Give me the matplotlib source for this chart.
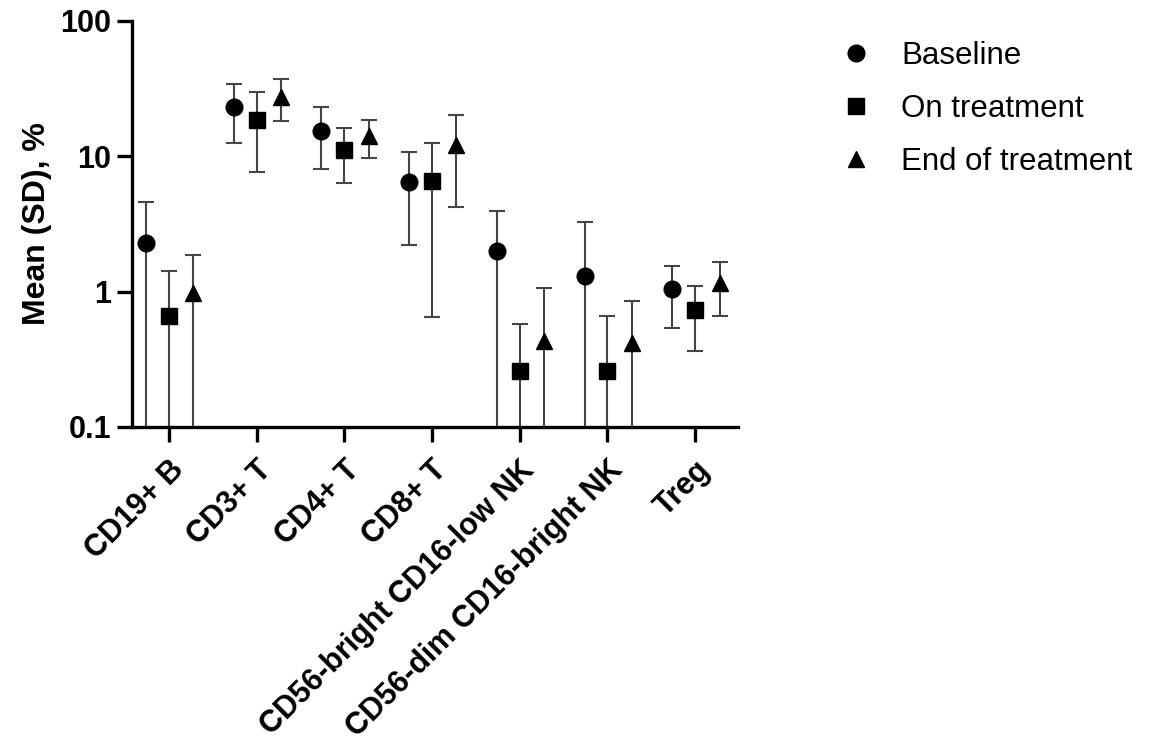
import numpy as np
import matplotlib
matplotlib.use("Agg")
import matplotlib.pyplot as plt
from matplotlib.lines import Line2D

plt.rcParams['font.family'] = ['Liberation Sans', 'DejaVu Sans']

categories = ["CD19+ B", "CD3+ T", "CD4+ T", "CD8+ T",
              "CD56-bright CD16-low NK", "CD56-dim CD16-bright NK", "Treg"]
series_names = ["Baseline", "On treatment", "End of treatment"]

baseline_mean = [2.30, 23.3, 15.5, 6.5, 2.01, 1.31, 1.05]
baseline_sd = [2.32, 10.8, 7.5, 4.3, 1.95, 1.94, 0.51]
on_mean = [0.665, 18.7, 11.2, 6.6, 0.258, 0.258, 0.736]
on_sd = [0.75, 11.0, 4.9, 5.95, 0.32, 0.40, 0.37]
end_mean = [0.98, 27.6, 14.2, 12.2, 0.43, 0.42, 1.16]
end_sd = [0.90, 9.4, 4.5, 8.0, 0.63, 0.43, 0.50]

yticks = [0.1, 1, 10, 100]
ytick_labels = ["0.1", "1", "10", "100"]

W, H = 1158, 747
fig = plt.figure(figsize=(W / 100, H / 100), dpi=100)
ax = fig.add_axes([132 / W, 1 - 427 / H, (738 - 132) / W, (427 - 21) / H])

x = np.arange(len(categories))
offsets = [-0.26, 0.0, 0.28]
markers = ['o', 's', '^']
msizes = [12, 11, 12]
means = [baseline_mean, on_mean, end_mean]
sds = [baseline_sd, on_sd, end_sd]

for i in range(3):
    m = np.array(means[i])
    s = np.array(sds[i])
    lower = np.maximum(m - s, 1e-3)
    upper = m + s
    yerr = np.vstack([m - lower, upper - m])
    ax.errorbar(x + offsets[i], m, yerr=yerr, fmt='none', ecolor='#454545',
                elinewidth=1.5, capsize=6, capthick=1.5, zorder=2)
    ax.plot(x + offsets[i], m, linestyle='none', marker=markers[i],
            markersize=msizes[i], color='black', zorder=3,
            label=series_names[i])

ax.set_yscale('log')
ax.set_ylim(0.1, 100)
ax.set_xlim(-0.42, 6.49)
ax.set_yticks(yticks)
ax.set_yticklabels(ytick_labels)
ax.yaxis.set_minor_locator(matplotlib.ticker.NullLocator())
ax.set_xticks(x)
ax.set_xticklabels(categories, rotation=45, ha='right', rotation_mode='anchor')

for side in ['top', 'right']:
    ax.spines[side].set_visible(False)
for side in ['left', 'bottom']:
    ax.spines[side].set_linewidth(2.4)

ax.tick_params(axis='both', which='major', length=11, width=2.4, pad=4)
ax.tick_params(axis='y', labelsize=22)
ax.tick_params(axis='x', labelsize=22, pad=9)
for lbl in ax.get_xticklabels() + ax.get_yticklabels():
    lbl.set_fontweight('bold')

ax.set_ylabel("Mean (SD), %", fontsize=23, fontweight='bold', labelpad=6)

handles = [Line2D([], [], linestyle='none', marker=markers[i],
                  markersize=[12, 11, 11][i], color='black') for i in range(3)]
fig.legend(handles, series_names, loc='upper left',
           bbox_to_anchor=(828 / W, 1 - 28 / H), frameon=False,
           fontsize=22.5, handlelength=1.0, handletextpad=0.95,
           labelspacing=0.75, borderaxespad=0)

fig.savefig("out.png", dpi=100)
